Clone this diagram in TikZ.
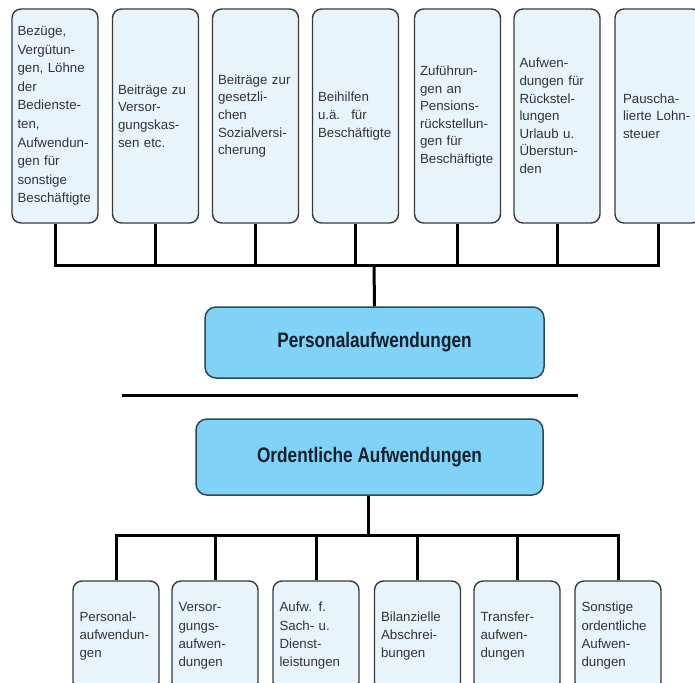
\documentclass[tikz,border=0pt]{standalone}
\usepackage{fontspec}
\setmainfont{Liberation Sans}
\newfontfamily\condfont[FakeStretch=0.82]{Liberation Sans}
\definecolor{smallfill}{HTML}{E8F4FC}
\definecolor{bigfill}{HTML}{80D3F6}
\definecolor{boxline}{HTML}{3A3A3A}
\definecolor{bigline}{HTML}{2E4756}
\definecolor{smalltext}{HTML}{333333}
\definecolor{bigtext}{HTML}{13202C}
\tikzset{
  topbox/.style={draw=boxline, line width=1.4pt, fill=smallfill, rounded corners=9pt,
    minimum width=86pt, minimum height=214pt, text width=75pt, inner xsep=5.5pt,
    align=left, text=smalltext, font=\fontsize{13.3}{17.6}\selectfont,
    execute at begin node={\setlength{\baselineskip}{17.6pt}},
    execute at end node={\par}},
  botbox/.style={draw=boxline, line width=1.4pt, fill=smallfill, rounded corners=9pt,
    minimum width=86pt, minimum height=110pt, text width=73pt, inner xsep=6.5pt,
    align=left, text=smalltext, font=\fontsize{13.3}{18.3}\selectfont,
    execute at begin node={\setlength{\baselineskip}{18.3pt}},
    execute at end node={\par}},
  bigbox/.style={draw=bigline, line width=1.5pt, fill=bigfill, rounded corners=11pt,
    text=bigtext, font=\condfont\bfseries\fontsize{21}{24}\selectfont},
  conn/.style={line width=3pt, black},
}
\begin{document}
\begin{tikzpicture}[x=1pt, y=-1pt]
\fill[white] (0,0) rectangle (695,682);
\useasboundingbox (0,0) rectangle (695,682);

% top boxes
\node[topbox, font=\fontsize{13.3}{18.6}\selectfont,
  execute at begin node={\setlength{\baselineskip}{18.6pt}}] (t1) at (55,116) {Bezüge,\\Vergütun-\\gen, Löhne\\der\\Bedienste-\\ten,\\Aufwendun-\\gen für\\sonstige\\Beschäftigte};
\node[topbox] (t2) at (155.5,116) {Beiträge zu\\Versor-\\gungskas-\\sen etc.};
\node[topbox] (t3) at (255.5,116) {Beiträge zur\\gesetzli-\\chen\\Sozialversi-\\cherung};
\node[topbox] (t4) at (355.5,116) {Beihilfen\\u.ä.~ für\\Beschäftigte};
\node[topbox] (t5) at (457.5,116) {Zuführun-\\gen an\\Pensions-\\rückstellun-\\gen für\\Beschäftigte};
\node[topbox] (t6) at (557,116) {Aufwen-\\dungen für\\Rückstel-\\lungen\\Urlaub u.\\Überstun-\\den};
\node[topbox, text width=70pt, inner xsep=8pt] (t7) at (658,116) {Pauscha-\\lierte Lohn-\\steuer};

% big boxes
\node[bigbox, minimum width=339pt, minimum height=71pt] (pers) at (374.5,342.5) {Personalaufwendungen};
\node[bigbox, minimum width=347pt, minimum height=76pt] (ord) at (369.5,457) {Ordentliche Aufwendungen};

% separator
\coordinate (sepL) at (122,395);
\coordinate (sepR) at (578,395);
\draw[line width=3pt] (sepL) -- (sepR);

% bottom boxes
\node[botbox] (b1) at (116,636) {Personal-\\aufwendun-\\gen};
\node[botbox] (b2) at (215,636) {Versor-\\gungs-\\aufwen-\\dungen};
\node[botbox] (b3) at (316,636) {Aufw. f.\\Sach- u.\\Dienst-\\leistungen};
\node[botbox] (b4) at (417.5,636) {Bilanzielle\\Abschrei-\\bungen};
\node[botbox] (b5) at (517,636) {Transfer-\\aufwen-\\dungen};
\node[botbox] (b6) at (618,636) {Sonstige\\ordentliche\\Aufwen-\\dungen};

% top connectors
\coordinate (busT) at (374,265);
\foreach \n in {t1,t2,t3,t4,t5,t6,t7} {
  \draw[conn] (\n.south) -- (\n.south |- busT);
}
\draw[conn, line cap=rect] (t1.south |- busT) -- (t7.south |- busT);
\draw[conn] (busT) -- (pers.north);

% bottom connectors
\coordinate (busB) at (368,535.5);
\draw[conn] (ord.south -| busB) -- (busB);
\foreach \n in {b1,b2,b3,b4,b5,b6} {
  \draw[conn] (\n.north) -- (\n.north |- busB);
}
\draw[conn, line cap=rect] (b1.north |- busB) -- (b6.north |- busB);
\end{tikzpicture}
\end{document}
